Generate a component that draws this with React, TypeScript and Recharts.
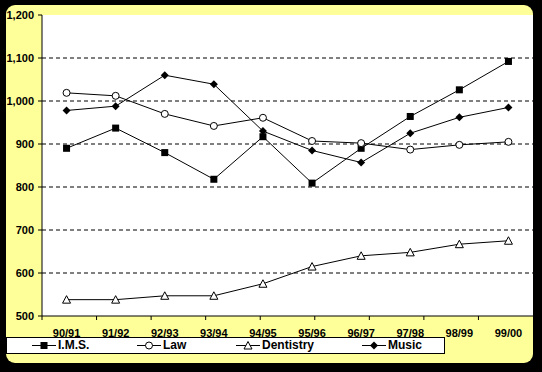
import React from 'react';
import { LineChart, Line, XAxis, YAxis, CartesianGrid } from 'recharts';

const years = ['90/91', '91/92', '92/93', '93/94', '94/95', '95/96', '96/97', '97/98', '98/99', '99/00'];
const ims = [890, 937, 880, 818, 917, 809, 890, 964, 1026, 1092];
const law = [1019, 1012, 970, 942, 961, 907, 902, 887, 898, 905];
const dentistry = [538, 538, 547, 547, 575, 615, 640, 648, 667, 675];
const music = [978, 988, 1060, 1039, 930, 885, 857, 925, 962, 985];

const yTicks = [500, 600, 700, 800, 900, 1000, 1100, 1200];
const gridValues = [600, 700, 800, 900, 1000, 1100];
const edgeTicks = [0, 1, 2, 3, 4, 5, 6, 7, 8, 9, 10];

const data = years.map((year, i) => ({
  year,
  ims: ims[i],
  law: law[i],
  dentistry: dentistry[i],
  music: music[i],
}));

const FONT = '"Liberation Sans", Arial, sans-serif';
const YELLOW = '#FFFF99';

type Marker = 'square' | 'circle' | 'triangle' | 'diamond';

function markerShape(kind: Marker, cx: number, cy: number, key?: string | number) {
  if (kind === 'square') {
    return <rect key={key} x={cx - 3.5} y={cy - 3.5} width={7} height={7} fill="#000" />;
  }
  if (kind === 'circle') {
    return <circle key={key} cx={cx} cy={cy} r={3.5} fill="#fff" stroke="#000" strokeWidth={1} />;
  }
  if (kind === 'triangle') {
    return (
      <polygon
        key={key}
        points={`${cx},${cy - 4} ${cx - 4},${cy + 3.5} ${cx + 4},${cy + 3.5}`}
        fill="#fff"
        stroke="#000"
        strokeWidth={1}
      />
    );
  }
  return (
    <polygon
      key={key}
      points={`${cx},${cy - 4} ${cx + 4},${cy} ${cx},${cy + 4} ${cx - 4},${cy}`}
      fill="#000"
    />
  );
}

const makeDot = (kind: Marker) => (props: any) => {
  const { cx, cy, index } = props;
  if (cx == null || cy == null) return <g key={`e-${index}`} />;
  return markerShape(kind, cx, cy, `${kind}-${index}`);
};

const series: { key: string; name: string; marker: Marker; left: number }[] = [
  { key: 'ims', name: 'I.M.S.', marker: 'square', left: 25 },
  { key: 'law', name: 'Law', marker: 'circle', left: 130 },
  { key: 'dentistry', name: 'Dentistry', marker: 'triangle', left: 229 },
  { key: 'music', name: 'Music', marker: 'diamond', left: 355 },
];

const tickFont = { fill: '#000', fontSize: 11, fontWeight: 'bold', fontFamily: FONT };

export default function App() {
  return (
    <div
      style={{
        position: 'absolute',
        left: 0,
        top: 0,
        width: 542,
        height: 372,
        background: '#000',
        fontFamily: FONT,
      }}
    >
      {/* yellow chart card */}
      <div
        style={{
          position: 'absolute',
          left: 6,
          top: 5,
          width: 527,
          height: 358,
          background: YELLOW,
          borderRadius: 9,
        }}
      />
      <div style={{ position: 'absolute', left: 0, top: 0 }}>
        <LineChart width={542} height={372} data={data} margin={{ top: 15, right: 9, left: 6, bottom: 26 }}>
          <CartesianGrid
            fill="#fff"
            vertical={false}
            horizontalValues={gridValues}
            stroke="#000"
            strokeDasharray="4 3"
          />
          {/* boundary tick marks between categories */}
          <XAxis
            xAxisId="a"
            type="number"
            domain={[0, 10]}
            ticks={edgeTicks}
            tick={() => <g />}
            tickSize={4}
            height={4}
            axisLine={{ stroke: '#000' }}
            tickLine={{ stroke: '#000' }}
          />
          <XAxis
            xAxisId="b"
            dataKey="year"
            scale="band"
            axisLine={false}
            tickLine={false}
            height={26}
            tickMargin={3}
            interval={0}
            tick={tickFont}
          />
          <YAxis
            domain={[500, 1200]}
            ticks={yTicks}
            width={36}
            tickSize={4}
            tickMargin={4}
            axisLine={{ stroke: '#000' }}
            tickLine={{ stroke: '#000' }}
            tickFormatter={(v: number) => v.toLocaleString('en-US')}
            tick={tickFont}
          />
          {series.map((s) => (
            <Line
              key={s.key}
              xAxisId="b"
              dataKey={s.key}
              name={s.name}
              type="linear"
              stroke="#000"
              strokeWidth={1}
              dot={makeDot(s.marker)}
              activeDot={false}
              isAnimationActive={false}
            />
          ))}
        </LineChart>
      </div>
      {/* legend */}
      <div
        style={{
          position: 'absolute',
          left: 6,
          top: 337,
          width: 437,
          height: 15,
          background: '#fff',
          border: '1px solid #000',
        }}
      >
        {series.map((s) => (
          <div
            key={s.key}
            style={{ position: 'absolute', left: s.left, top: 0, height: 15, display: 'flex', alignItems: 'center' }}
          >
            <svg width={24} height={15} style={{ display: 'block' }}>
              <line x1={0} y1={7.5} x2={24} y2={7.5} stroke="#000" strokeWidth={1} />
              {markerShape(s.marker, 12, 7.5)}
            </svg>
            <span style={{ marginLeft: 2, fontSize: 12, fontWeight: 'bold', color: '#000', lineHeight: '15px' }}>
              {s.name}
            </span>
          </div>
        ))}
      </div>
    </div>
  );
}
